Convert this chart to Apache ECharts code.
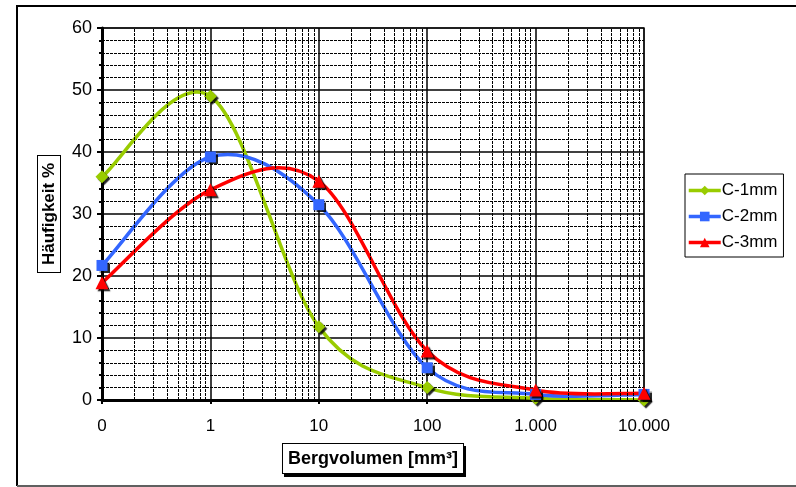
<!DOCTYPE html>
<html>
<head>
<meta charset="utf-8">
<script src="https://cdn.jsdelivr.net/npm/echarts@6/dist/echarts.min.js"></script>
<style>
  html, body { margin: 0; padding: 0; background: #fff; }
  #main { width: 796px; height: 487px; }
</style>
</head>
<body>
<div id="main"></div>
<script>
// Bergvolumen classes (0 is plotted at 0.1 on the log axis)
const volumes = [0.1, 1, 10, 100, 1000, 10000];
const c1mm = [36, 49, 11.8, 2, 0.3, 0];
const c2mm = [21.7, 39.2, 31.5, 5.2, 0.9, 0.9];
const c3mm = [18.9, 33.9, 35.3, 7.9, 1.6, 1.1];
const yTicks = [0, 10, 20, 30, 40, 50, 60];

const mainEl = document.getElementById("main");
let chart = echarts.init(mainEl);

const font = "'Liberation Sans', Arial, sans-serif";
const colors = { c1: '#99CC00', c2: '#3366FF', c3: '#FF0000' };

// dashed minor verticals at 2..9 of each decade
let minorX = [];
for (let d = 0.1; d < 10000; d *= 10) {
    for (let k = 2; k <= 9; k++) {
        minorX.push({ xAxis: +(d * k).toPrecision(3) });
    }
}

function pairs(vals) {
    return volumes.map((v, i) => [v, vals[i]]);
}

function xLabel(v) {
    if (v < 1) return "0";
    return String(Math.round(v)).replace(/\B(?=(\d{3})+(?!\d))/g, ".");
}

// Excel-like smoothed line (Catmull-Rom through the points, via api.coord)
function smoothCurve(vals, color) {
    return (params, api) => {
        if (params.dataIndex !== 0) return null;
        const pts = pairs(vals).map(p => api.coord(p));
        let d = 'M' + pts[0][0] + ' ' + pts[0][1];
        for (let i = 0; i < pts.length - 1; i++) {
            const p0 = pts[i - 1] || pts[i];
            const p1 = pts[i];
            const p2 = pts[i + 1];
            const p3 = pts[i + 2] || pts[i + 1];
            const c1x = p1[0] + (p2[0] - p0[0]) / 6;
            const c1y = p1[1] + (p2[1] - p0[1]) / 6;
            const c2x = p2[0] - (p3[0] - p1[0]) / 6;
            const c2y = p2[1] - (p3[1] - p1[1]) / 6;
            d += ' C' + c1x + ' ' + c1y + ' ' + c2x + ' ' + c2y + ' ' + p2[0] + ' ' + p2[1];
        }
        return {
            type: 'path',
            shape: { pathData: d },
            style: { fill: 'none', stroke: color, lineWidth: 3.5, lineJoin: 'round' }
        };
    };
}

function curveSeries(name, vals, color) {
    return {
        name: name,
        type: 'custom',
        data: pairs(vals),
        encode: { x: 0, y: 1 },
        renderItem: smoothCurve(vals, color),
        clip: true,
        silent: true,
        z: 2
    };
}

function markerSeries(name, vals, color, symbol, size, z) {
    return {
        name: name,
        type: 'line',
        data: pairs(vals),
        symbol: symbol,
        symbolSize: size,
        color: color,
        lineStyle: { width: 3.5, opacity: 0 },
        itemStyle: {
            shadowColor: 'rgba(0,0,0,0.85)', shadowBlur: 1,
            shadowOffsetX: 2, shadowOffsetY: 2
        },
        z: z
    };
}

const option = {
    animation: false,
    textStyle: { fontFamily: font },
    grid: {
        left: 102, right: 152, top: 28, bottom: 87,
        show: true, borderColor: '#808080', borderWidth: 2
    },
    graphic: [
        { type: 'line', shape: { x1: 17, y1: 6, x2: 796, y2: 6 }, style: { stroke: '#000', lineWidth: 2 } },
        { type: 'line', shape: { x1: 17, y1: 5, x2: 17, y2: 486 }, style: { stroke: '#000', lineWidth: 2 } },
        { type: 'line', shape: { x1: 17, y1: 486, x2: 796, y2: 486 }, style: { stroke: '#606060', lineWidth: 2 } }
    ],
    legend: {
        orient: 'vertical',
        left: 685, top: 174,
        padding: [8, 6, 6, 2],
        itemGap: 9,
        itemWidth: 32, itemHeight: 12,
        borderColor: '#000', borderWidth: 1,
        borderRadius: 0,
        lineStyle: { opacity: 1, width: 3.5 },
        itemStyle: { shadowBlur: 0, shadowOffsetX: 0, shadowOffsetY: 0 },
        textStyle: { fontSize: 17, color: '#000', fontFamily: font, padding: [0, 0, 0, -4] },
        data: ['C-1mm', 'C-2mm', 'C-3mm']
    },
    xAxis: {
        type: 'log',
        logBase: 10,
        min: 0.1,
        max: 10000,
        name: 'Bergvolumen [mm³]',
        nameLocation: 'middle',
        nameGap: 44,
        nameTextStyle: {
            fontSize: 18, fontWeight: 'bold', color: '#000', fontFamily: font,
            borderColor: '#000', borderWidth: 1, padding: [6, 5, 5, 5],
            backgroundColor: '#fff',
            shadowColor: '#000', shadowOffsetX: 2, shadowOffsetY: 3
        },
        axisLine: { lineStyle: { color: '#000', width: 3 } },
        axisTick: { show: true, length: 4, lineStyle: { color: '#000', width: 2 } },
        axisLabel: { fontSize: 17, color: '#000', margin: 18, formatter: xLabel },
        splitLine: { show: true, lineStyle: { color: '#000', width: 1.5 } }
    },
    yAxis: {
        type: 'value',
        min: 0,
        max: 60,
        interval: 10,
        name: 'Häufigkeit %',
        nameLocation: 'middle',
        nameGap: 42,
        nameTextStyle: {
            fontSize: 17, fontWeight: 'bold', color: '#000', fontFamily: font,
            borderColor: '#000', borderWidth: 1, padding: [3, 7, 2, 7],
            backgroundColor: '#fff'
        },
        axisLine: { show: true, lineStyle: { color: '#000', width: 3 } },
        axisTick: { show: true, length: 5, lineStyle: { color: '#000', width: 2 } },
        minorTick: { show: true, splitNumber: 5, length: 3, lineStyle: { color: '#000', width: 2 } },
        axisLabel: {
            fontSize: 18, color: '#000', margin: 10,
            formatter: v => yTicks.includes(v) ? String(v) : ''
        },
        splitLine: { show: true, lineStyle: { color: '#000', width: 1.5 } },
        minorSplitLine: { show: true, lineStyle: { color: '#000', width: 1, type: [3, 1] } }
    },
    series: [
        {
            name: 'grid',
            type: 'line',
            data: [],
            silent: true,
            z: 1,
            markLine: {
                silent: true,
                symbol: 'none',
                animation: false,
                label: { show: false },
                lineStyle: { color: '#000', width: 1, type: [3, 1] },
                data: minorX
            }
        },
        curveSeries('C-1mm curve', c1mm, colors.c1),
        curveSeries('C-2mm curve', c2mm, colors.c2),
        curveSeries('C-3mm curve', c3mm, colors.c3),
        markerSeries('C-1mm', c1mm, colors.c1, 'diamond', 13, 4),
        markerSeries('C-2mm', c2mm, colors.c2, 'rect', 11, 5),
        markerSeries('C-3mm', c3mm, colors.c3, 'triangle', 13, 6)
    ]
};

chart.setOption(option);
</script>
</body>
</html>
